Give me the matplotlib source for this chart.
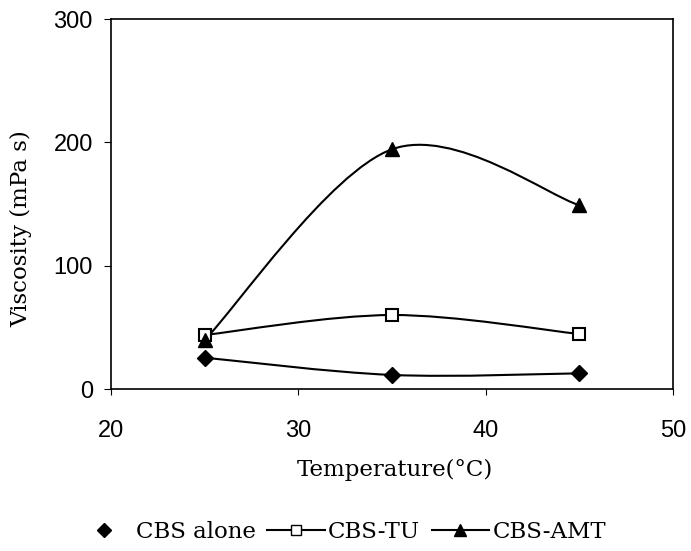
import numpy as np
import matplotlib
matplotlib.use('Agg')
import matplotlib.pyplot as plt
from matplotlib.path import Path
from matplotlib.patches import PathPatch
from matplotlib.lines import Line2D

temperature = [25, 35, 45]
cbs_alone = [25.4, 11.4, 12.7]
cbs_tu = [43.8, 60.0, 44.6]
cbs_amt = [39.7, 194.4, 149.0]
series_names = ['CBS alone', 'CBS-TU', 'CBS-AMT']


def smooth_path(x, y):
    # Excel-style smoothed line (Catmull-Rom as cubic bezier)
    pts = np.column_stack([x, y]).astype(float)
    verts = [pts[0]]
    codes = [Path.MOVETO]
    n = len(pts)
    for i in range(n - 1):
        p0 = pts[i - 1] if i > 0 else pts[i]
        p1 = pts[i]
        p2 = pts[i + 1]
        p3 = pts[i + 2] if i + 2 < n else pts[i + 1]
        c1 = p1 + (p2 - p0) / 6.0
        c2 = p2 - (p3 - p1) / 6.0
        verts += [c1, c2, p2]
        codes += [Path.CURVE4] * 3
    return Path(verts, codes)


serif = 'DejaVu Serif'
fig = plt.figure(figsize=(6.91, 5.51), dpi=100)
ax = fig.add_axes([0.1606, 0.294, 0.8134, 0.6715])

for ys in [cbs_alone, cbs_tu, cbs_amt]:
    ax.add_patch(PathPatch(smooth_path(temperature, ys), fill=False,
                           edgecolor='black', lw=1.5))

ax.plot(temperature, cbs_alone, ls='none', marker='D', ms=8.5, color='black')
ax.plot(temperature, cbs_tu, ls='none', marker='s', ms=8,
        mfc='white', mec='black', mew=1.5)
ax.plot(temperature, cbs_amt, ls='none', marker='^', ms=10, color='black')

ax.set_xlim(20, 50)
ax.set_ylim(0, 300)
ax.set_xticks([20, 30, 40, 50])
ax.set_yticks([0, 100, 200, 300])
ax.tick_params(axis='y', direction='out', length=5, labelsize=17, pad=8)
ax.tick_params(axis='x', direction='out', length=4, labelsize=17, pad=18)
for lab in ax.get_xticklabels() + ax.get_yticklabels():
    lab.set_family('Liberation Sans')
for s in ax.spines.values():
    s.set_linewidth(1.2)

ax.set_xlabel('Temperature(°C)', family=serif, fontsize=16.5)
ax.xaxis.set_label_coords(0.505, -0.19)
ax.set_ylabel('Viscosity (mPa s)', family=serif, fontsize=16.5)
ax.yaxis.set_label_coords(-0.14, 0.434)

handles = [
    Line2D([], [], ls='none', marker='D', ms=7.5, color='black'),
    Line2D([], [], color='black', lw=1.5, marker='s', ms=7, mfc='white', mec='black'),
    Line2D([], [], color='black', lw=1.5, marker='^', ms=9),
]
fig.legend(handles, series_names, loc='center', bbox_to_anchor=(0.493, 0.035),
           ncol=3, frameon=False, prop={'family': serif, 'size': 16.5},
           handlelength=2.5, handletextpad=0.15, columnspacing=0.5,
           borderaxespad=0, borderpad=0)

fig.savefig('out.png', dpi=100)
